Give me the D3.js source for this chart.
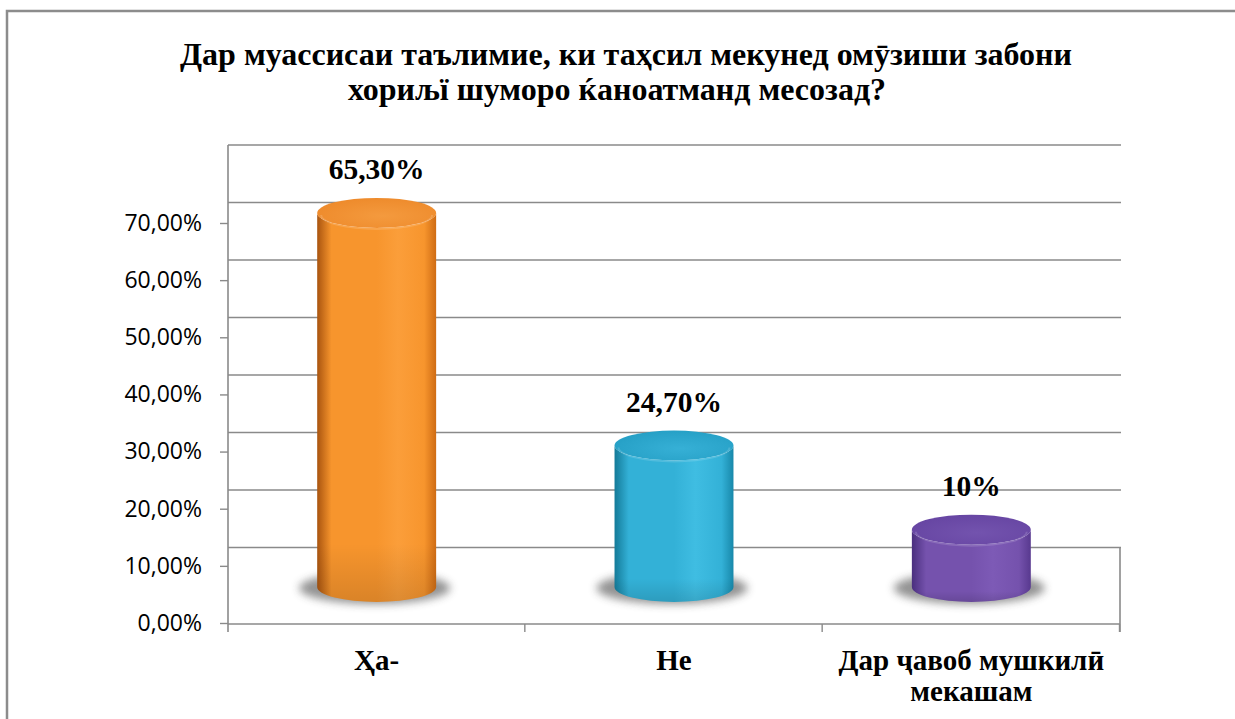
<!DOCTYPE html>
<html>
<head>
<meta charset="utf-8">
<script src="https://cdn.jsdelivr.net/npm/d3@7/dist/d3.min.js"></script>
<style>
  html, body { margin: 0; padding: 0; background: #fff; }
  svg { display: block; }
  .serif { font-family: "Liberation Serif", "Times New Roman", Times, serif; font-weight: bold; }
</style>
</head>
<body>
<svg id="chart" width="1235" height="719"></svg>
<script>
// ---- data ----
const titleLines = [
  "Дар муассисаи таълимие, ки таҳсил мекунед омӯзиши забони",
  "хориљї шуморо ќаноатманд месозад?"
];
const categories = ["Ҳа-", "Не", "Дар ҷавоб мушкилӣ мекашам"];
const categoryLines = [["Ҳа-"], ["Не"], ["Дар ҷавоб мушкилӣ", "мекашам"]];
const values = [0.653, 0.247, 0.10];
const valueLabels = ["65,30%", "24,70%", "10%"];
const yTicks = [0, 0.1, 0.2, 0.3, 0.4, 0.5, 0.6, 0.7];
const wallTicks = [0.1, 0.2, 0.3, 0.4, 0.5, 0.6, 0.7, 0.8];
const palettes = [
  { edgeL: "#a9540f", mid: "#f7952d", hi: "#fb9e3a", edgeR: "#cf6c14", top: "#ee8b2c", topHi: "#f49a3e" },
  { edgeL: "#147a98", mid: "#33b1d7", hi: "#3fbde2", edgeR: "#1888aa", top: "#26a0c6", topHi: "#36b0d6" },
  { edgeL: "#4a2f7e", mid: "#7552ad", hi: "#7d5ab6", edgeR: "#58398f", top: "#6746a3", topHi: "#7353ae" }
];

const svg = d3.select("#chart");
const defs = svg.append("defs");
const gray = "#8a8a8a";

// outer frame
svg.append("path")
  .attr("d", "M7,719 L7,11 L1235,11")
  .attr("fill", "none").attr("stroke", "#8c8c8c").attr("stroke-width", 2.5);

// title
const title = svg.append("text").attr("class", "serif")
  .attr("text-anchor", "middle").attr("font-size", 32).attr("fill", "#000");
title.selectAll("tspan").data(titleLines).join("tspan")
  .attr("x", (d, i) => i === 0 ? 626 : 617)
  .attr("y", (d, i) => 65 + i * 35)
  .text(d => d);

// scales
const x = d3.scaleBand().domain(categories).range([228, 1120]);
const yAxisScale = d3.scaleLinear().domain([0, 0.7]).range([623, 223]);
const wallScale = d3.scaleLinear().domain([0, 0.8]).range([605, 145]);
const barScale = d3.scaleLinear().domain([0, 0.7]).range([587, 186]);

// back wall gridlines
svg.append("g").selectAll("line").data(wallTicks).join("line")
  .attr("x1", 228).attr("x2", 1121)
  .attr("y1", d => wallScale(d)).attr("y2", d => wallScale(d))
  .attr("stroke", gray).attr("stroke-width", 1.6);

// left wall line
svg.append("line").attr("x1", 228).attr("x2", 228).attr("y1", 145).attr("y2", 632)
  .attr("stroke", gray).attr("stroke-width", 1.6);
// right floor edge
svg.append("line").attr("x1", 1120).attr("x2", 1120).attr("y1", wallScale(0.1)).attr("y2", 632)
  .attr("stroke", gray).attr("stroke-width", 1.6);
// floor front line
svg.append("line").attr("x1", 228).attr("x2", 1120).attr("y1", 624).attr("y2", 624)
  .attr("stroke", gray).attr("stroke-width", 1.6);
// category ticks
const catEdges = categories.map(c => x(c)).concat([x.range()[1]]);
svg.append("g").selectAll("line").data(catEdges.slice(1)).join("line")
  .attr("x1", d => d - 0.5).attr("x2", d => d - 0.5).attr("y1", 624).attr("y2", 632)
  .attr("stroke", gray).attr("stroke-width", 1.4);

// y axis
const yAxis = d3.axisLeft(yAxisScale).tickValues(yTicks)
  .tickFormat(d => d3.format(".2f")(d * 100).replace(".", ",") + "%")
  .tickSize(8).tickPadding(18);
const yg = svg.append("g").attr("transform", "translate(228,0)").call(yAxis);
yg.select(".domain").remove();
yg.selectAll(".tick line").attr("stroke", gray).attr("stroke-width", 1.4);
yg.selectAll(".tick text")
  .attr("font-family", "'Open Sans', 'Noto Sans', sans-serif")
  .attr("font-size", 23).attr("fill", "#000");

// filters / gradients
const blur = defs.append("filter").attr("id", "shadow")
  .attr("x", "-50%").attr("y", "-100%").attr("width", "200%").attr("height", "300%");
blur.append("feGaussianBlur").attr("stdDeviation", 4.5);

palettes.forEach((p, i) => {
  const g = defs.append("linearGradient").attr("id", "body" + i)
    .attr("x1", "0%").attr("x2", "100%").attr("y1", "0%").attr("y2", "0%");
  [[0, p.edgeL], [0.12, p.mid], [0.5, p.mid], [0.68, p.hi], [0.9, p.mid], [1, p.edgeR]]
    .forEach(s => g.append("stop").attr("offset", s[0]).attr("stop-color", s[1]));
  const t = defs.append("radialGradient").attr("id", "top" + i)
    .attr("cx", "55%").attr("cy", "60%").attr("r", "60%");
  [[0, p.topHi], [1, p.top]].forEach(s => t.append("stop").attr("offset", s[0]).attr("stop-color", s[1]));
  const v = defs.append("linearGradient").attr("id", "vshade" + i)
    .attr("x1", "0%").attr("x2", "0%").attr("y1", "0%").attr("y2", "100%");
  [[0, "#000", 0.0], [0.85, "#000", 0.0], [1, "#000", 0.12]]
    .forEach(s => v.append("stop").attr("offset", s[0]).attr("stop-color", s[1]).attr("stop-opacity", s[2]));
});

// bars (cylinders)
const bw = x.bandwidth() * 0.4;
const rx = bw / 2, ry = 15;
const bars = svg.append("g").selectAll("g.bar").data(categories).join("g").attr("class", "bar");
bars.each(function (c, i) {
  const g = d3.select(this);
  const cx = x(c) + x.bandwidth() / 2;
  const base = barScale(0);
  const top = barScale(values[i]);
  const l = cx - rx, r = cx + rx;
  g.append("ellipse").attr("cx", cx - 2).attr("cy", base + 1).attr("rx", rx + 16).attr("ry", ry + 1)
    .attr("fill", "#3a3a3a").attr("opacity", 0.55).attr("filter", "url(#shadow)");
  const bodyPath = `M${l},${top} L${l},${base} A${rx},${ry} 0 0 0 ${r},${base} L${r},${top} A${rx},${ry} 0 0 1 ${l},${top} Z`;
  g.append("path").attr("d", bodyPath).attr("fill", `url(#body${i})`);
  g.append("path").attr("d", bodyPath).attr("fill", `url(#vshade${i})`);
  g.append("ellipse").attr("cx", cx).attr("cy", top).attr("rx", rx).attr("ry", ry)
    .attr("fill", `url(#top${i})`);
  g.append("path").attr("d", `M${l + 4},${top + 2} A${rx - 4},${ry - 1} 0 0 0 ${r - 4},${top + 2}`)
    .attr("fill", "none").attr("stroke", "#fff").attr("stroke-opacity", 0.15).attr("stroke-width", 2);
});

// value labels
svg.append("g").selectAll("text").data(categories).join("text").attr("class", "serif")
  .attr("x", c => x(c) + x.bandwidth() / 2)
  .attr("y", (c, i) => barScale(values[i]) - 34)
  .attr("text-anchor", "middle")
  .attr("font-size", 29.5).attr("fill", "#000")
  .text((c, i) => valueLabels[i]);

// category labels
const cl = svg.append("g").selectAll("text").data(categories).join("text").attr("class", "serif")
  .attr("text-anchor", "middle").attr("font-size", 29).attr("fill", "#000");
cl.each(function (c, i) {
  d3.select(this).selectAll("tspan").data(categoryLines[i]).join("tspan")
    .attr("x", x(c) + x.bandwidth() / 2)
    .attr("y", (d, j) => 670 + j * 31)
    .text(d => d);
});
</script>
</body>
</html>
